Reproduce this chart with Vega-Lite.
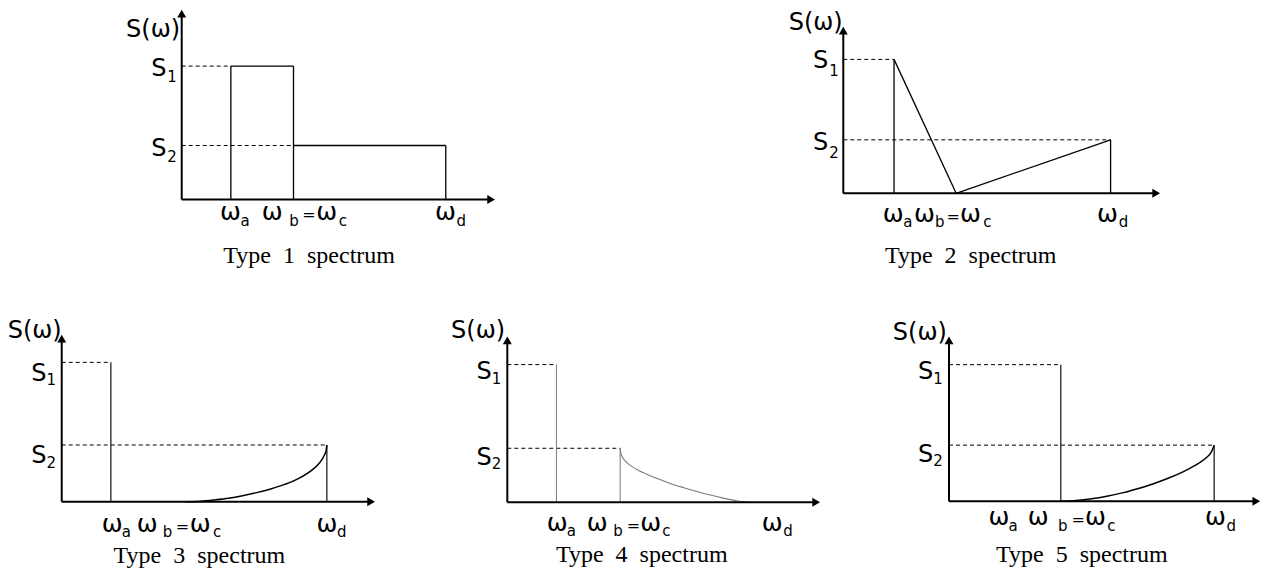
{
  "$schema": "https://vega.github.io/schema/vega-lite/v6.json",
  "background": "white",
  "padding": 0,
  "config": {"view": {"stroke": null}, "concat": {"spacing": 0}},
  "datasets": {
    "seg": [
      {"p":1,"r":"axis","x":0,"y":0,"x2":5.74,"y2":0},
      {"p":1,"r":"axis","x":0,"y":0,"x2":0,"y2":3.44},
      {"p":1,"r":"spectrum","x":0.91,"y":0,"x2":0.91,"y2":2.47},
      {"p":1,"r":"spectrum","x":0.91,"y":2.47,"x2":2.07,"y2":2.47},
      {"p":1,"r":"spectrum","x":2.07,"y":0,"x2":2.07,"y2":2.47},
      {"p":1,"r":"spectrum","x":2.07,"y":1.0,"x2":4.89,"y2":1.0},
      {"p":1,"r":"spectrum","x":4.89,"y":0,"x2":4.89,"y2":1.0},
      {"p":1,"r":"guide","x":0,"y":2.47,"x2":0.91,"y2":2.47},
      {"p":1,"r":"guide","x":0,"y":1.0,"x2":2.07,"y2":1.0},
      {"p":2,"r":"axis","x":0,"y":0,"x2":5.8,"y2":0},
      {"p":2,"r":"axis","x":0,"y":0,"x2":0,"y2":3.015},
      {"p":2,"r":"spectrum","x":0.94,"y":0,"x2":0.94,"y2":2.48},
      {"p":2,"r":"spectrum","x":0.94,"y":2.48,"x2":2.09,"y2":0},
      {"p":2,"r":"spectrum","x":2.09,"y":0,"x2":4.95,"y2":0.99},
      {"p":2,"r":"spectrum","x":4.95,"y":0,"x2":4.95,"y2":0.99},
      {"p":2,"r":"guide","x":0,"y":2.48,"x2":0.94,"y2":2.48},
      {"p":2,"r":"guide","x":0,"y":0.99,"x2":4.95,"y2":0.99},
      {"p":3,"r":"axis","x":0,"y":0,"x2":5.73,"y2":0},
      {"p":3,"r":"axis","x":0,"y":0,"x2":0,"y2":3.02},
      {"p":3,"r":"spectrum","x":0.91,"y":0,"x2":0.91,"y2":2.58},
      {"p":3,"r":"spectrum","x":4.91,"y":0,"x2":4.91,"y2":1.05},
      {"p":3,"r":"guide","x":0,"y":2.58,"x2":0.91,"y2":2.58},
      {"p":3,"r":"guide","x":0,"y":1.05,"x2":4.91,"y2":1.05},
      {"p":4,"r":"axis","x":0,"y":0,"x2":5.72,"y2":0},
      {"p":4,"r":"axis","x":0,"y":0,"x2":0,"y2":3.0},
      {"p":4,"r":"spectrum","x":0.91,"y":0,"x2":0.91,"y2":2.55},
      {"p":4,"r":"spectrum","x":2.09,"y":0,"x2":2.09,"y2":1.0},
      {"p":4,"r":"guide","x":0,"y":2.55,"x2":0.91,"y2":2.55},
      {"p":4,"r":"guide","x":0,"y":1.0,"x2":2.09,"y2":1.0},
      {"p":5,"r":"axis","x":0,"y":0,"x2":5.69,"y2":0},
      {"p":5,"r":"axis","x":0,"y":0,"x2":0,"y2":2.98},
      {"p":5,"r":"spectrum","x":2.07,"y":0,"x2":2.07,"y2":2.53},
      {"p":5,"r":"spectrum","x":4.91,"y":0,"x2":4.91,"y2":1.04},
      {"p":5,"r":"guide","x":0,"y":2.53,"x2":2.07,"y2":2.53},
      {"p":5,"r":"guide","x":0,"y":1.04,"x2":4.91,"y2":1.04}
    ],
    "arrow": [
      {"p":1,"d":"right","x":5.73,"y":0},{"p":1,"d":"up","x":0,"y":3.44},
      {"p":2,"d":"right","x":5.795,"y":0},{"p":2,"d":"up","x":0,"y":3.015},
      {"p":3,"d":"right","x":5.73,"y":0},{"p":3,"d":"up","x":0,"y":3.02},
      {"p":4,"d":"right","x":5.72,"y":0},{"p":4,"d":"up","x":0,"y":3.0},
      {"p":5,"d":"right","x":5.69,"y":0},{"p":5,"d":"up","x":0,"y":2.98}
    ],
    "curve": [
      {"p":3,"i":0,"x":2.31,"y":0},
      {"p":3,"i":1,"x":2.57,"y":0.008},
      {"p":3,"i":2,"x":2.83,"y":0.032},
      {"p":3,"i":3,"x":3.09,"y":0.063},
      {"p":3,"i":4,"x":3.35,"y":0.11},
      {"p":3,"i":5,"x":3.61,"y":0.168},
      {"p":3,"i":6,"x":3.87,"y":0.236},
      {"p":3,"i":7,"x":4.13,"y":0.32},
      {"p":3,"i":8,"x":4.39,"y":0.431},
      {"p":3,"i":9,"x":4.65,"y":0.599},
      {"p":3,"i":10,"x":4.78,"y":0.725},
      {"p":3,"i":11,"x":4.858,"y":0.851},
      {"p":3,"i":12,"x":4.897,"y":0.95},
      {"p":3,"i":13,"x":4.91,"y":1.05},
      {"p":4,"i":0,"x":2.09,"y":1.0},
      {"p":4,"i":1,"x":2.1,"y":0.92},
      {"p":4,"i":2,"x":2.13,"y":0.84},
      {"p":4,"i":3,"x":2.2,"y":0.75},
      {"p":4,"i":4,"x":2.31,"y":0.66},
      {"p":4,"i":5,"x":2.44,"y":0.585},
      {"p":4,"i":6,"x":2.56,"y":0.53},
      {"p":4,"i":7,"x":2.8,"y":0.43},
      {"p":4,"i":8,"x":3.03,"y":0.345},
      {"p":4,"i":9,"x":3.27,"y":0.27},
      {"p":4,"i":10,"x":3.51,"y":0.2},
      {"p":4,"i":11,"x":3.74,"y":0.138},
      {"p":4,"i":12,"x":3.98,"y":0.082},
      {"p":4,"i":13,"x":4.21,"y":0.036},
      {"p":4,"i":14,"x":4.33,"y":0.014},
      {"p":4,"i":15,"x":4.45,"y":0},
      {"p":5,"i":0,"x":2.07,"y":0},
      {"p":5,"i":1,"x":2.354,"y":0.016},
      {"p":5,"i":2,"x":2.638,"y":0.047},
      {"p":5,"i":3,"x":2.922,"y":0.094},
      {"p":5,"i":4,"x":3.206,"y":0.156},
      {"p":5,"i":5,"x":3.49,"y":0.234},
      {"p":5,"i":6,"x":3.774,"y":0.322},
      {"p":5,"i":7,"x":4.058,"y":0.426},
      {"p":5,"i":8,"x":4.342,"y":0.551},
      {"p":5,"i":9,"x":4.626,"y":0.707},
      {"p":5,"i":10,"x":4.768,"y":0.811},
      {"p":5,"i":11,"x":4.853,"y":0.905},
      {"p":5,"i":12,"x":4.91,"y":1.04}
    ],
    "txt": [
      {"p":1,"r":"ylab","x":-0.03,"y":3.01,"t":"S(ω)"},
      {"p":1,"r":"ylab","x":-0.28,"y":2.29,"t":"S"},
      {"p":1,"r":"sub","x":-0.27,"y":2.18,"t":"1"},
      {"p":1,"r":"ylab","x":-0.28,"y":0.81,"t":"S"},
      {"p":1,"r":"sub","x":-0.27,"y":0.7,"t":"2"},
      {"p":1,"r":"sym","x":0.71,"y":-0.38,"t":"ω"},
      {"p":1,"r":"sub","x":1.09,"y":-0.5,"t":"a"},
      {"p":1,"r":"sym","x":1.48,"y":-0.38,"t":"ω"},
      {"p":1,"r":"sub","x":1.99,"y":-0.5,"t":"b"},
      {"p":1,"r":"eq","x":2.23,"y":-0.38,"t":"="},
      {"p":1,"r":"sym","x":2.49,"y":-0.38,"t":"ω"},
      {"p":1,"r":"sub","x":2.91,"y":-0.5,"t":"c"},
      {"p":1,"r":"sym","x":4.69,"y":-0.38,"t":"ω"},
      {"p":1,"r":"sub","x":5.09,"y":-0.5,"t":"d"},
      {"p":1,"r":"title","x":2.36,"y":-1.17,"t":"Type\u00a0 1\u00a0 spectrum"},
      {"p":2,"r":"ylab","x":-0.01,"y":3.02,"t":"S(ω)"},
      {"p":2,"r":"ylab","x":-0.28,"y":2.32,"t":"S"},
      {"p":2,"r":"sub","x":-0.26,"y":2.17,"t":"1"},
      {"p":2,"r":"ylab","x":-0.28,"y":0.81,"t":"S"},
      {"p":2,"r":"sub","x":-0.26,"y":0.66,"t":"2"},
      {"p":2,"r":"sym","x":0.73,"y":-0.53,"t":"ω"},
      {"p":2,"r":"sub","x":1.11,"y":-0.63,"t":"a"},
      {"p":2,"r":"sym","x":1.31,"y":-0.53,"t":"ω"},
      {"p":2,"r":"sub","x":1.7,"y":-0.63,"t":"b"},
      {"p":2,"r":"eq","x":1.91,"y":-0.53,"t":"="},
      {"p":2,"r":"sym","x":2.16,"y":-0.53,"t":"ω"},
      {"p":2,"r":"sub","x":2.59,"y":-0.63,"t":"c"},
      {"p":2,"r":"sym","x":4.7,"y":-0.53,"t":"ω"},
      {"p":2,"r":"sub","x":5.1,"y":-0.63,"t":"d"},
      {"p":2,"r":"title","x":2.36,"y":-1.3,"t":"Type\u00a0 2\u00a0 spectrum"},
      {"p":3,"r":"ylab","x":0,"y":3.03,"t":"S(ω)"},
      {"p":3,"r":"ylab","x":-0.28,"y":2.24,"t":"S"},
      {"p":3,"r":"sub","x":-0.28,"y":2.16,"t":"1"},
      {"p":3,"r":"ylab","x":-0.28,"y":0.71,"t":"S"},
      {"p":3,"r":"sub","x":-0.28,"y":0.63,"t":"2"},
      {"p":3,"r":"sym","x":0.74,"y":-0.56,"t":"ω"},
      {"p":3,"r":"sub","x":1.11,"y":-0.65,"t":"a"},
      {"p":3,"r":"sym","x":1.39,"y":-0.56,"t":"ω"},
      {"p":3,"r":"sub","x":1.87,"y":-0.65,"t":"b"},
      {"p":3,"r":"eq","x":2.11,"y":-0.56,"t":"="},
      {"p":3,"r":"sym","x":2.37,"y":-0.56,"t":"ω"},
      {"p":3,"r":"sub","x":2.8,"y":-0.65,"t":"c"},
      {"p":3,"r":"sym","x":4.72,"y":-0.56,"t":"ω"},
      {"p":3,"r":"sub","x":5.1,"y":-0.65,"t":"d"},
      {"p":3,"r":"title","x":2.55,"y":-1.13,"t":"Type\u00a0 3\u00a0 spectrum"},
      {"p":4,"r":"ylab","x":-0.04,"y":3.04,"t":"S(ω)"},
      {"p":4,"r":"ylab","x":-0.29,"y":2.28,"t":"S"},
      {"p":4,"r":"sub","x":-0.29,"y":2.19,"t":"1"},
      {"p":4,"r":"ylab","x":-0.29,"y":0.69,"t":"S"},
      {"p":4,"r":"sub","x":-0.29,"y":0.61,"t":"2"},
      {"p":4,"r":"sym","x":0.73,"y":-0.54,"t":"ω"},
      {"p":4,"r":"sub","x":1.1,"y":-0.63,"t":"a"},
      {"p":4,"r":"sym","x":1.47,"y":-0.54,"t":"ω"},
      {"p":4,"r":"sub","x":1.96,"y":-0.63,"t":"b"},
      {"p":4,"r":"eq","x":2.21,"y":-0.54,"t":"="},
      {"p":4,"r":"sym","x":2.46,"y":-0.54,"t":"ω"},
      {"p":4,"r":"sub","x":2.87,"y":-0.63,"t":"c"},
      {"p":4,"r":"sym","x":4.71,"y":-0.54,"t":"ω"},
      {"p":4,"r":"sub","x":5.11,"y":-0.63,"t":"d"},
      {"p":4,"r":"title","x":2.49,"y":-1.1,"t":"Type\u00a0 4\u00a0 spectrum"},
      {"p":5,"r":"ylab","x":-0.04,"y":2.99,"t":"S(ω)"},
      {"p":5,"r":"ylab","x":-0.29,"y":2.26,"t":"S"},
      {"p":5,"r":"sub","x":-0.29,"y":2.17,"t":"1"},
      {"p":5,"r":"ylab","x":-0.29,"y":0.73,"t":"S"},
      {"p":5,"r":"sub","x":-0.29,"y":0.65,"t":"2"},
      {"p":5,"r":"sym","x":0.73,"y":-0.44,"t":"ω"},
      {"p":5,"r":"sub","x":1.1,"y":-0.55,"t":"a"},
      {"p":5,"r":"sym","x":1.46,"y":-0.44,"t":"ω"},
      {"p":5,"r":"sub","x":2.02,"y":-0.55,"t":"b"},
      {"p":5,"r":"eq","x":2.27,"y":-0.44,"t":"="},
      {"p":5,"r":"sym","x":2.52,"y":-0.44,"t":"ω"},
      {"p":5,"r":"sub","x":2.93,"y":-0.55,"t":"c"},
      {"p":5,"r":"sym","x":4.74,"y":-0.44,"t":"ω"},
      {"p":5,"r":"sub","x":5.14,"y":-0.55,"t":"d"},
      {"p":5,"r":"title","x":2.46,"y":-1.12,"t":"Type\u00a0 5\u00a0 spectrum"}
    ]
  },
  "vconcat": [
    {
      "hconcat": [
        {
          "width": 633, "height": 290,
          "encoding": {
            "x": {"field": "x", "type": "quantitative", "scale": {"domain": [-3.365, 8.357], "nice": false, "zero": false}, "axis": null},
            "y": {"field": "y", "type": "quantitative", "scale": {"domain": [-1.676, 3.694], "nice": false, "zero": false}, "axis": null}
          },
          "layer": [
            {"data": {"name": "seg"}, "transform": [{"filter": "datum.p == 1 && datum.r == 'guide'"}], "mark": {"type": "rule", "color": "#000", "strokeWidth": 1, "strokeDash": [4, 3]}, "encoding": {"x2": {"field": "x2"}, "y2": {"field": "y2"}}},
            {"data": {"name": "seg"}, "transform": [{"filter": "datum.p == 1 && datum.r == 'spectrum'"}], "mark": {"type": "rule", "color": "#000", "strokeWidth": 1.3}, "encoding": {"x2": {"field": "x2"}, "y2": {"field": "y2"}}},
            {"data": {"name": "seg"}, "transform": [{"filter": "datum.p == 1 && datum.r == 'axis'"}], "mark": {"type": "rule", "color": "#000", "strokeWidth": 2}, "encoding": {"x2": {"field": "x2"}, "y2": {"field": "y2"}}},
            {"data": {"name": "arrow"}, "transform": [{"filter": "datum.p == 1"}], "mark": {"type": "point", "filled": true, "color": "#000", "opacity": 1, "size": 80}, "encoding": {"shape": {"field": "d", "type": "nominal", "scale": {"domain": ["right", "up"], "range": ["triangle-right", "triangle-up"]}, "legend": null}}},
            {"data": {"name": "txt"}, "transform": [{"filter": "datum.p == 1 && datum.r == 'ylab'"}], "mark": {"type": "text", "align": "right", "baseline": "alphabetic", "font": "DejaVu Sans", "fontSize": 24, "color": "#000"}, "encoding": {"text": {"field": "t"}}},
            {"data": {"name": "txt"}, "transform": [{"filter": "datum.p == 1 && datum.r == 'sym'"}], "mark": {"type": "text", "align": "left", "baseline": "alphabetic", "font": "DejaVu Sans", "fontSize": 25, "color": "#000"}, "encoding": {"text": {"field": "t"}}},
            {"data": {"name": "txt"}, "transform": [{"filter": "datum.p == 1 && datum.r == 'eq'"}], "mark": {"type": "text", "align": "left", "baseline": "alphabetic", "font": "DejaVu Sans", "fontSize": 16, "color": "#000"}, "encoding": {"text": {"field": "t"}}},
            {"data": {"name": "txt"}, "transform": [{"filter": "datum.p == 1 && datum.r == 'sub'"}], "mark": {"type": "text", "align": "left", "baseline": "alphabetic", "font": "DejaVu Sans", "fontSize": 15, "color": "#000"}, "encoding": {"text": {"field": "t"}}},
            {"data": {"name": "txt"}, "transform": [{"filter": "datum.p == 1 && datum.r == 'title'"}], "mark": {"type": "text", "align": "center", "baseline": "alphabetic", "font": "Liberation Serif", "fontSize": 24, "color": "#000"}, "encoding": {"text": {"field": "t"}}}
          ]
        },
        {
          "width": 633, "height": 290,
          "encoding": {
            "x": {"field": "x", "type": "quantitative", "scale": {"domain": [-3.894, 7.828], "nice": false, "zero": false}, "axis": null},
            "y": {"field": "y", "type": "quantitative", "scale": {"domain": [-1.791, 3.58], "nice": false, "zero": false}, "axis": null}
          },
          "layer": [
            {"data": {"name": "seg"}, "transform": [{"filter": "datum.p == 2 && datum.r == 'guide'"}], "mark": {"type": "rule", "color": "#000", "strokeWidth": 1, "strokeDash": [4, 3]}, "encoding": {"x2": {"field": "x2"}, "y2": {"field": "y2"}}},
            {"data": {"name": "seg"}, "transform": [{"filter": "datum.p == 2 && datum.r == 'spectrum'"}], "mark": {"type": "rule", "color": "#000", "strokeWidth": 1.3}, "encoding": {"x2": {"field": "x2"}, "y2": {"field": "y2"}}},
            {"data": {"name": "seg"}, "transform": [{"filter": "datum.p == 2 && datum.r == 'axis'"}], "mark": {"type": "rule", "color": "#000", "strokeWidth": 2}, "encoding": {"x2": {"field": "x2"}, "y2": {"field": "y2"}}},
            {"data": {"name": "arrow"}, "transform": [{"filter": "datum.p == 2"}], "mark": {"type": "point", "filled": true, "color": "#000", "opacity": 1, "size": 80}, "encoding": {"shape": {"field": "d", "type": "nominal", "scale": {"domain": ["right", "up"], "range": ["triangle-right", "triangle-up"]}, "legend": null}}},
            {"data": {"name": "txt"}, "transform": [{"filter": "datum.p == 2 && datum.r == 'ylab'"}], "mark": {"type": "text", "align": "right", "baseline": "alphabetic", "font": "DejaVu Sans", "fontSize": 24, "color": "#000"}, "encoding": {"text": {"field": "t"}}},
            {"data": {"name": "txt"}, "transform": [{"filter": "datum.p == 2 && datum.r == 'sym'"}], "mark": {"type": "text", "align": "left", "baseline": "alphabetic", "font": "DejaVu Sans", "fontSize": 25, "color": "#000"}, "encoding": {"text": {"field": "t"}}},
            {"data": {"name": "txt"}, "transform": [{"filter": "datum.p == 2 && datum.r == 'eq'"}], "mark": {"type": "text", "align": "left", "baseline": "alphabetic", "font": "DejaVu Sans", "fontSize": 16, "color": "#000"}, "encoding": {"text": {"field": "t"}}},
            {"data": {"name": "txt"}, "transform": [{"filter": "datum.p == 2 && datum.r == 'sub'"}], "mark": {"type": "text", "align": "left", "baseline": "alphabetic", "font": "DejaVu Sans", "fontSize": 15, "color": "#000"}, "encoding": {"text": {"field": "t"}}},
            {"data": {"name": "txt"}, "transform": [{"filter": "datum.p == 2 && datum.r == 'title'"}], "mark": {"type": "text", "align": "center", "baseline": "alphabetic", "font": "Liberation Serif", "fontSize": 24, "color": "#000"}, "encoding": {"text": {"field": "t"}}}
          ]
        }
      ],
      "spacing": 0,
      "resolve": {"scale": {"x": "independent", "y": "independent"}}
    },
    {
      "hconcat": [
        {
          "width": 420, "height": 282,
          "encoding": {
            "x": {"field": "x", "type": "quantitative", "scale": {"domain": [-1.143, 6.635], "nice": false, "zero": false}, "axis": null},
            "y": {"field": "y", "type": "quantitative", "scale": {"domain": [-1.302, 3.92], "nice": false, "zero": false}, "axis": null}
          },
          "layer": [
            {"data": {"name": "seg"}, "transform": [{"filter": "datum.p == 3 && datum.r == 'guide'"}], "mark": {"type": "rule", "color": "#000", "strokeWidth": 1, "strokeDash": [4, 3]}, "encoding": {"x2": {"field": "x2"}, "y2": {"field": "y2"}}},
            {"data": {"name": "seg"}, "transform": [{"filter": "datum.p == 3 && datum.r == 'spectrum'"}], "mark": {"type": "rule", "color": "#222", "strokeWidth": 1.3}, "encoding": {"x2": {"field": "x2"}, "y2": {"field": "y2"}}},
            {"data": {"name": "curve"}, "transform": [{"filter": "datum.p == 3"}], "mark": {"type": "line", "color": "#000", "strokeWidth": 1.5, "interpolate": "monotone"}, "encoding": {"order": {"field": "i", "type": "quantitative"}}},
            {"data": {"name": "seg"}, "transform": [{"filter": "datum.p == 3 && datum.r == 'axis'"}], "mark": {"type": "rule", "color": "#000", "strokeWidth": 2}, "encoding": {"x2": {"field": "x2"}, "y2": {"field": "y2"}}},
            {"data": {"name": "arrow"}, "transform": [{"filter": "datum.p == 3"}], "mark": {"type": "point", "filled": true, "color": "#000", "opacity": 1, "size": 80}, "encoding": {"shape": {"field": "d", "type": "nominal", "scale": {"domain": ["right", "up"], "range": ["triangle-right", "triangle-up"]}, "legend": null}}},
            {"data": {"name": "txt"}, "transform": [{"filter": "datum.p == 3 && datum.r == 'ylab'"}], "mark": {"type": "text", "align": "right", "baseline": "alphabetic", "font": "DejaVu Sans", "fontSize": 24, "color": "#000"}, "encoding": {"text": {"field": "t"}}},
            {"data": {"name": "txt"}, "transform": [{"filter": "datum.p == 3 && datum.r == 'sym'"}], "mark": {"type": "text", "align": "left", "baseline": "alphabetic", "font": "DejaVu Sans", "fontSize": 25, "color": "#000"}, "encoding": {"text": {"field": "t"}}},
            {"data": {"name": "txt"}, "transform": [{"filter": "datum.p == 3 && datum.r == 'eq'"}], "mark": {"type": "text", "align": "left", "baseline": "alphabetic", "font": "DejaVu Sans", "fontSize": 16, "color": "#000"}, "encoding": {"text": {"field": "t"}}},
            {"data": {"name": "txt"}, "transform": [{"filter": "datum.p == 3 && datum.r == 'sub'"}], "mark": {"type": "text", "align": "left", "baseline": "alphabetic", "font": "DejaVu Sans", "fontSize": 15, "color": "#000"}, "encoding": {"text": {"field": "t"}}},
            {"data": {"name": "txt"}, "transform": [{"filter": "datum.p == 3 && datum.r == 'title'"}], "mark": {"type": "text", "align": "center", "baseline": "alphabetic", "font": "Liberation Serif", "fontSize": 24, "color": "#000"}, "encoding": {"text": {"field": "t"}}}
          ]
        },
        {
          "width": 450, "height": 282,
          "encoding": {
            "x": {"field": "x", "type": "quantitative", "scale": {"domain": [-1.617, 6.717], "nice": false, "zero": false}, "axis": null},
            "y": {"field": "y", "type": "quantitative", "scale": {"domain": [-1.291, 3.931], "nice": false, "zero": false}, "axis": null}
          },
          "layer": [
            {"data": {"name": "seg"}, "transform": [{"filter": "datum.p == 4 && datum.r == 'guide'"}], "mark": {"type": "rule", "color": "#000", "strokeWidth": 1, "strokeDash": [4, 3]}, "encoding": {"x2": {"field": "x2"}, "y2": {"field": "y2"}}},
            {"data": {"name": "seg"}, "transform": [{"filter": "datum.p == 4 && datum.r == 'spectrum'"}], "mark": {"type": "rule", "color": "#7a7a7a", "strokeWidth": 1}, "encoding": {"x2": {"field": "x2"}, "y2": {"field": "y2"}}},
            {"data": {"name": "curve"}, "transform": [{"filter": "datum.p == 4"}], "mark": {"type": "line", "color": "#7a7a7a", "strokeWidth": 1.1, "interpolate": "monotone"}, "encoding": {"order": {"field": "i", "type": "quantitative"}}},
            {"data": {"name": "seg"}, "transform": [{"filter": "datum.p == 4 && datum.r == 'axis'"}], "mark": {"type": "rule", "color": "#000", "strokeWidth": 2}, "encoding": {"x2": {"field": "x2"}, "y2": {"field": "y2"}}},
            {"data": {"name": "arrow"}, "transform": [{"filter": "datum.p == 4"}], "mark": {"type": "point", "filled": true, "color": "#000", "opacity": 1, "size": 80}, "encoding": {"shape": {"field": "d", "type": "nominal", "scale": {"domain": ["right", "up"], "range": ["triangle-right", "triangle-up"]}, "legend": null}}},
            {"data": {"name": "txt"}, "transform": [{"filter": "datum.p == 4 && datum.r == 'ylab'"}], "mark": {"type": "text", "align": "right", "baseline": "alphabetic", "font": "DejaVu Sans", "fontSize": 24, "color": "#000"}, "encoding": {"text": {"field": "t"}}},
            {"data": {"name": "txt"}, "transform": [{"filter": "datum.p == 4 && datum.r == 'sym'"}], "mark": {"type": "text", "align": "left", "baseline": "alphabetic", "font": "DejaVu Sans", "fontSize": 25, "color": "#000"}, "encoding": {"text": {"field": "t"}}},
            {"data": {"name": "txt"}, "transform": [{"filter": "datum.p == 4 && datum.r == 'eq'"}], "mark": {"type": "text", "align": "left", "baseline": "alphabetic", "font": "DejaVu Sans", "fontSize": 16, "color": "#000"}, "encoding": {"text": {"field": "t"}}},
            {"data": {"name": "txt"}, "transform": [{"filter": "datum.p == 4 && datum.r == 'sub'"}], "mark": {"type": "text", "align": "left", "baseline": "alphabetic", "font": "DejaVu Sans", "fontSize": 15, "color": "#000"}, "encoding": {"text": {"field": "t"}}},
            {"data": {"name": "txt"}, "transform": [{"filter": "datum.p == 4 && datum.r == 'title'"}], "mark": {"type": "text", "align": "center", "baseline": "alphabetic", "font": "Liberation Serif", "fontSize": 24, "color": "#000"}, "encoding": {"text": {"field": "t"}}}
          ]
        },
        {
          "width": 396, "height": 282,
          "encoding": {
            "x": {"field": "x", "type": "quantitative", "scale": {"domain": [-1.463, 5.87], "nice": false, "zero": false}, "axis": null},
            "y": {"field": "y", "type": "quantitative", "scale": {"domain": [-1.309, 3.913], "nice": false, "zero": false}, "axis": null}
          },
          "layer": [
            {"data": {"name": "seg"}, "transform": [{"filter": "datum.p == 5 && datum.r == 'guide'"}], "mark": {"type": "rule", "color": "#000", "strokeWidth": 1, "strokeDash": [4, 3]}, "encoding": {"x2": {"field": "x2"}, "y2": {"field": "y2"}}},
            {"data": {"name": "seg"}, "transform": [{"filter": "datum.p == 5 && datum.r == 'spectrum'"}], "mark": {"type": "rule", "color": "#222", "strokeWidth": 1.3}, "encoding": {"x2": {"field": "x2"}, "y2": {"field": "y2"}}},
            {"data": {"name": "curve"}, "transform": [{"filter": "datum.p == 5"}], "mark": {"type": "line", "color": "#000", "strokeWidth": 1.5, "interpolate": "monotone"}, "encoding": {"order": {"field": "i", "type": "quantitative"}}},
            {"data": {"name": "seg"}, "transform": [{"filter": "datum.p == 5 && datum.r == 'axis'"}], "mark": {"type": "rule", "color": "#000", "strokeWidth": 2}, "encoding": {"x2": {"field": "x2"}, "y2": {"field": "y2"}}},
            {"data": {"name": "arrow"}, "transform": [{"filter": "datum.p == 5"}], "mark": {"type": "point", "filled": true, "color": "#000", "opacity": 1, "size": 80}, "encoding": {"shape": {"field": "d", "type": "nominal", "scale": {"domain": ["right", "up"], "range": ["triangle-right", "triangle-up"]}, "legend": null}}},
            {"data": {"name": "txt"}, "transform": [{"filter": "datum.p == 5 && datum.r == 'ylab'"}], "mark": {"type": "text", "align": "right", "baseline": "alphabetic", "font": "DejaVu Sans", "fontSize": 24, "color": "#000"}, "encoding": {"text": {"field": "t"}}},
            {"data": {"name": "txt"}, "transform": [{"filter": "datum.p == 5 && datum.r == 'sym'"}], "mark": {"type": "text", "align": "left", "baseline": "alphabetic", "font": "DejaVu Sans", "fontSize": 25, "color": "#000"}, "encoding": {"text": {"field": "t"}}},
            {"data": {"name": "txt"}, "transform": [{"filter": "datum.p == 5 && datum.r == 'eq'"}], "mark": {"type": "text", "align": "left", "baseline": "alphabetic", "font": "DejaVu Sans", "fontSize": 16, "color": "#000"}, "encoding": {"text": {"field": "t"}}},
            {"data": {"name": "txt"}, "transform": [{"filter": "datum.p == 5 && datum.r == 'sub'"}], "mark": {"type": "text", "align": "left", "baseline": "alphabetic", "font": "DejaVu Sans", "fontSize": 15, "color": "#000"}, "encoding": {"text": {"field": "t"}}},
            {"data": {"name": "txt"}, "transform": [{"filter": "datum.p == 5 && datum.r == 'title'"}], "mark": {"type": "text", "align": "center", "baseline": "alphabetic", "font": "Liberation Serif", "fontSize": 24, "color": "#000"}, "encoding": {"text": {"field": "t"}}}
          ]
        }
      ],
      "spacing": 0,
      "resolve": {"scale": {"x": "independent", "y": "independent"}}
    }
  ],
  "spacing": 0,
  "resolve": {"scale": {"x": "independent", "y": "independent"}}
}
